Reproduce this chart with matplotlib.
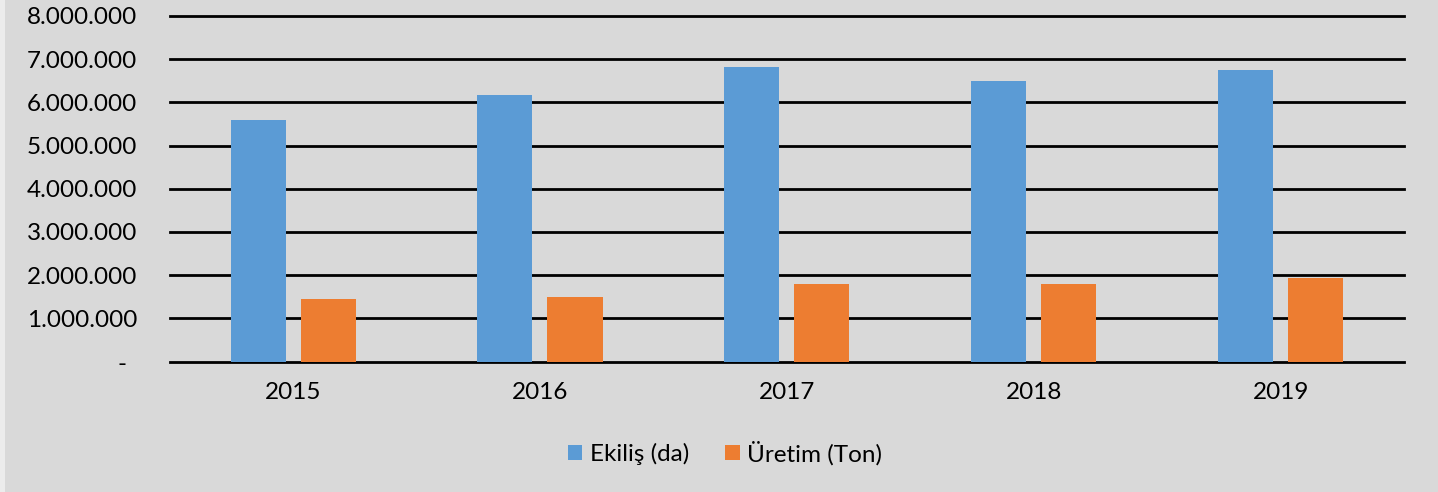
import matplotlib
matplotlib.use("Agg")
import matplotlib.pyplot as plt
from matplotlib.transforms import ScaledTranslation
from matplotlib.patches import Rectangle
import numpy as np

years = ["2015", "2016", "2017", "2018", "2019"]
ekilis = [5590000, 6170000, 6820000, 6490000, 6760000]
uretim = [1450000, 1490000, 1790000, 1790000, 1940000]
series_names = ["Ekiliş (da)", "Üretim (Ton)"]
yticks = [0, 1000000, 2000000, 3000000, 4000000, 5000000, 6000000, 7000000, 8000000]

BG = "#d9d9d9"
BLUE = "#5b9bd5"
ORANGE = "#ed7d31"

plt.rcParams['font.family'] = ['Lato', 'DejaVu Sans']

fig = plt.figure(figsize=(14.38, 4.92), dpi=100, facecolor=BG)
ax = fig.add_axes([170/1438, 1 - 361.5/492, (1404 - 170)/1438, (361.5 - 16)/492])
ax.set_facecolor(BG)

x = np.arange(len(years))
w = 0.223
ax.bar(x - 0.143, ekilis, width=w, color=BLUE, label=series_names[0], zorder=3)
ax.bar(x + 0.141, uretim, width=w, color=ORANGE, label=series_names[1], zorder=3)

ax.set_xlim(-0.5, len(years) - 0.5)
ax.set_ylim(0, 8000000)
ax.set_yticks(yticks)
ax.set_yticklabels(["-" if v == 0 else f"{v:,}".replace(",", ".") for v in yticks])
ax.set_xticks(x)
ax.set_xticklabels(years)
ax.grid(axis='y', color='black', linewidth=2.0, zorder=1)
for gl in ax.get_ygridlines():
    gl.set_clip_on(False)
ax.set_axisbelow(True)
for s in ax.spines.values():
    s.set_visible(False)
ax.tick_params(axis='y', length=0, pad=23.5, labelsize=17.5, labelcolor='black')
ax.tick_params(axis='x', length=0, pad=15, labelsize=17.5, labelcolor='black')

lbl0 = ax.get_yticklabels()[0]
lbl0.set_transform(lbl0.get_transform() + ScaledTranslation(-0.11, -0.01, fig.dpi_scale_trans))

leg = fig.legend(loc='center', bbox_to_anchor=(725/1438, 1 - 453/492), ncol=2,
                 frameon=False, fontsize=17.5, handlelength=0.6, handleheight=0.6,
                 handletextpad=0.3, columnspacing=1.5)

# light left edge strip
fig.patches.append(Rectangle((0, 0), 5/1438, 1, transform=fig.transFigure,
                             facecolor="#ececec", edgecolor='none'))

fig.savefig("out.png", dpi=100, facecolor=BG)
